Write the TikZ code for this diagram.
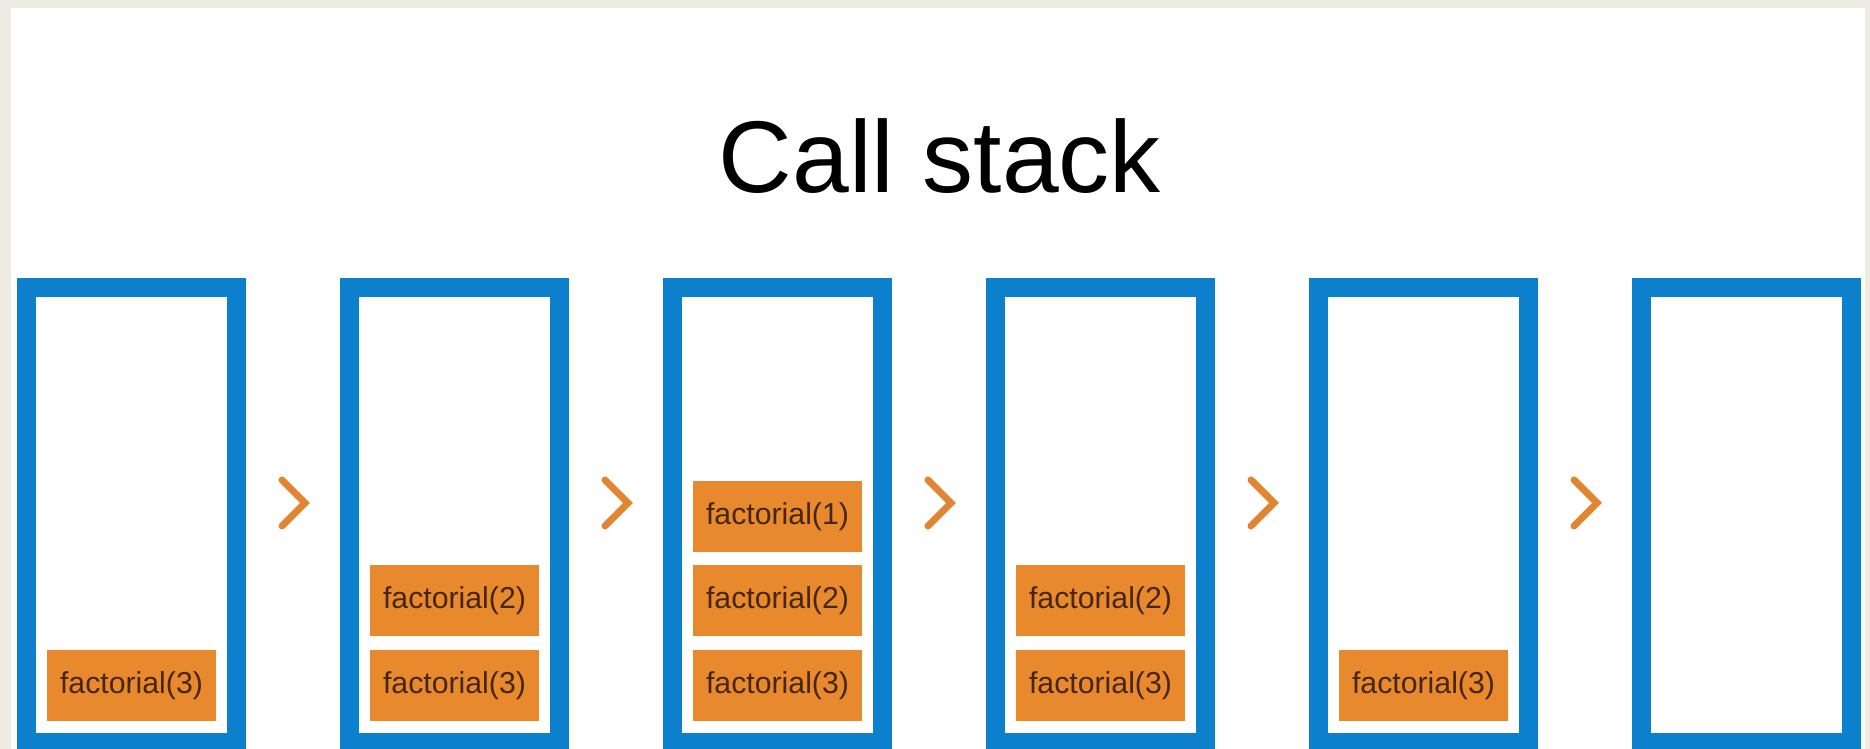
\documentclass[tikz,border=0pt]{standalone}
\usepackage{fontspec}
\setmainfont{Liberation Sans}
\usetikzlibrary{positioning,calc}

\definecolor{stackblue}{RGB}{12,128,204}
\definecolor{frameorange}{RGB}{232,137,46}
\definecolor{framebrown}{RGB}{70,38,12}
\definecolor{arroworange}{RGB}{226,133,50}
\definecolor{bgbeige}{RGB}{238,235,227}

\begin{document}
\begin{tikzpicture}[x=0.01cm, y=0.01cm,
    stackbox/.style={draw=stackblue, line width=5.4pt, minimum width=2.09cm, minimum height=4.54cm, inner sep=0},
    callframe/.style={fill=frameorange, text=framebrown, minimum width=1.68cm, minimum height=0.71cm, inner sep=0, font=\fontsize{8.6}{10}\selectfont},
    chevron/.style={draw=arroworange, line width=2pt, line cap=round}]
    \useasboundingbox (0,0) rectangle (1870,749);
    \clip (0,0) rectangle (1870,749);
    \fill[bgbeige] (0,0) rectangle (1870,749);
    \fill[white] (11,0) rectangle (1865,741);

    \node[font=\fontsize{29}{34}\selectfont, anchor=base] (title) at (940,556) {Call stack};

    \foreach \i in {1,...,6}
      \node[stackbox] (b\i) at ({131.5+(\i-1)*323},234) {};

    % frames, bottom up
    \node[callframe, above=0.3cm of b1.south] (f13) {factorial(3)};

    \node[callframe, above=0.3cm of b2.south] (f23) {factorial(3)};
    \node[callframe, above=0.12cm of f23] (f22) {factorial(2)};

    \node[callframe, above=0.3cm of b3.south] (f33) {factorial(3)};
    \node[callframe, above=0.12cm of f33] (f32) {factorial(2)};
    \node[callframe, above=0.12cm of f32] (f31) {factorial(1)};

    \node[callframe, above=0.3cm of b4.south] (f43) {factorial(3)};
    \node[callframe, above=0.12cm of f43] (f42) {factorial(2)};

    \node[callframe, above=0.3cm of b5.south] (f53) {factorial(3)};

    % chevrons between the stacks
    \foreach \i [evaluate=\i as \j using int(\i+1)] in {1,...,5} {
      \coordinate (c\i) at ($(b\i.east)!0.5!(b\j.west)+(0,12)$);
      \draw[chevron] ($(c\i)+(-11,23)$) -- ($(c\i)+(12,0)$) -- ($(c\i)+(-11,-23)$);
    }
\end{tikzpicture}
\end{document}
